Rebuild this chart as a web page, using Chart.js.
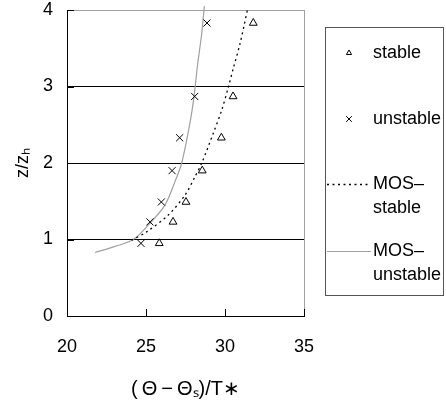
<!DOCTYPE html>
<html><head><meta charset="utf-8">
<style>html,body{margin:0;padding:0;background:#fff;}#wrap{width:446px;height:401px;position:relative;}</style>
<script src="https://cdn.jsdelivr.net/npm/chart.js@4"></script>
</head><body><div id="wrap"><canvas id="c" width="446" height="401"></canvas></div>
<script>
// ---- data ----
const obsHeights   = [0.95, 1.23, 1.49, 1.90, 2.33, 2.87, 3.83];
const stableObs    = [25.84, 26.71, 27.53, 28.56, 29.77, 30.51, 31.79];
const unstableObs  = [24.68, 25.25, 25.97, 26.65, 27.13, 28.08, 28.86];
const mosStableX   = [24.09, 25.04, 26.41, 27.47, 28.10, 28.53, 29.26, 29.79, 30.21, 30.53, 30.95, 31.45];
const mosStableZ   = [0.99, 1.10, 1.32, 1.58, 1.82, 2.00, 2.39, 2.69, 2.99, 3.24, 3.56, 4.03];
const mosUnstableX = [21.77, 23.04, 24.20, 25.15, 26.20, 26.84, 27.26, 27.78, 28.04, 28.25, 28.53, 28.69];
const mosUnstableZ = [0.83, 0.91, 1.00, 1.19, 1.45, 1.76, 2.00, 2.52, 2.87, 3.26, 3.70, 4.05];
const xTicks = [20, 25, 30, 35];
const yTicks = [0, 1, 2, 3, 4];
const seriesNames = ['stable', 'unstable', 'MOS–\nstable', 'MOS–\nunstable'];
const xTitle = '(\u2009Θ\u2009−\u2009Θₛ)/T∗';
const yTitle = 'z/zₕ';

const FONT = "'Liberation Sans', Arial, sans-serif";
const GRAY = '#a0a0a0';

const pts = (xs, ys) => xs.map((x, i) => ({x: x, y: ys[i]}));

const innerTicks = {
  id: 'innerTicks',
  afterDatasetsDraw(chart) {
    const ctx = chart.ctx, xs = chart.scales.x, ys = chart.scales.y;
    ctx.save();
    ctx.strokeStyle = '#000'; ctx.lineWidth = 1;
    ctx.beginPath();
    xTicks.forEach(v => { if (v === xTicks[0]) return;
      const px = Math.round(xs.getPixelForValue(v)) + 0.5;
      ctx.moveTo(px, ys.bottom); ctx.lineTo(px, ys.bottom - 7); });
    yTicks.forEach(v => { if (v === yTicks[0]) return;
      const py = Math.round(ys.getPixelForValue(v)) + 0.5;
      ctx.moveTo(xs.left, py); ctx.lineTo(xs.left + 7, py); });
    ctx.stroke();
    ctx.restore();
  }
};

const boxLegend = {
  id: 'boxLegend',
  afterDraw(chart) {
    const ctx = chart.ctx;
    const L = 325.5, T = 27.5, W = 118, H = 268;
    ctx.save();
    ctx.strokeStyle = '#555'; ctx.lineWidth = 1;
    ctx.strokeRect(L, T, W, H);
    ctx.textBaseline = 'middle';
    ctx.textAlign = 'left';
    const rows = [53, 119, 184, 251];
    chart.data.datasets.forEach((ds, i) => {
      const y = rows[i];
      if (ds.showLine) {
        ctx.save();
        ctx.strokeStyle = ds.borderColor; ctx.lineWidth = ds.borderWidth;
        ctx.setLineDash(ds.borderDash || []);
        ctx.beginPath(); ctx.moveTo(327, y + 0.5); ctx.lineTo(371, y + 0.5); ctx.stroke();
        ctx.restore();
      } else {
        ctx.save();
        ctx.fillStyle = 'rgba(0,0,0,0)';
        ctx.strokeStyle = '#000'; ctx.lineWidth = 1;
        Chart.helpers.drawPoint(ctx, {pointStyle: ds.pointStyle, radius: ds.legendRadius, rotation: 0,
          borderWidth: 1}, 349, y);
        ctx.restore();
      }
      ctx.font = '18px ' + FONT;
      ctx.fillStyle = '#000';
      const lines = ds.label.split('\n');
      lines.forEach((t, k) => ctx.fillText(t, 373, y + k * 24));
    });
    ctx.restore();
  }
};

new Chart(document.getElementById('c'), {
  type: 'scatter',
  data: {
    datasets: [
      {label: seriesNames[0], data: pts(stableObs, obsHeights), pointStyle: 'triangle', radius: 4.5,
       legendRadius: 3, borderColor: '#000', backgroundColor: 'rgba(0,0,0,0)', borderWidth: 1, showLine: false, order: 1},
      {label: seriesNames[1], data: pts(unstableObs, obsHeights), pointStyle: 'crossRot', radius: 5,
       legendRadius: 4, borderColor: '#000', backgroundColor: '#000', borderWidth: 1, showLine: false, order: 1},
      {label: seriesNames[2], data: pts(mosStableX, mosStableZ), showLine: true, pointRadius: 0,
       borderColor: '#000', borderWidth: 1.3, borderDash: [2, 3.5], tension: 0.3, order: 2,
       clip: {left: 0, top: 8, right: 0, bottom: 0}},
      {label: seriesNames[3], data: pts(mosUnstableX, mosUnstableZ), showLine: true, pointRadius: 0,
       borderColor: GRAY, borderWidth: 1.2, tension: 0.3, order: 3,
       clip: {left: 0, top: 8, right: 0, bottom: 0}}
    ]
  },
  options: {
    responsive: false, animation: false, devicePixelRatio: 1,
    layout: {autoPadding: false, padding: {left: 0, right: 142, top: 10, bottom: 0}},
    plugins: {legend: {display: false}, tooltip: {enabled: false}},
    scales: {
      x: {
        type: 'linear', min: 20, max: 35,
        afterBuildTicks: s => { s.ticks = xTicks.map(v => ({value: v})); },
        afterFit: s => { s.height = 85; s.paddingLeft = 0; s.paddingRight = 0; },
        ticks: {font: {family: FONT, size: 18}, color: '#000', padding: 20, maxRotation: 0},
        grid: {drawTicks: false, color: c => (c.tick && c.tick.value === 35) ? GRAY : 'rgba(0,0,0,0)', lineWidth: 1},
        border: {color: '#000', width: 1},
        title: {display: true, text: xTitle, font: {family: FONT, size: 20}, color: '#000', padding: {top: 2, bottom: 0}}
      },
      y: {
        type: 'linear', min: 0, max: 4,
        afterBuildTicks: s => { s.ticks = yTicks.map(v => ({value: v})); },
        afterFit: s => { s.width = 67; s.paddingTop = 0; s.paddingBottom = 0; },
        ticks: {font: {family: FONT, size: 18}, color: '#000', padding: 14},
        grid: {drawTicks: false, color: c => (c.tick && c.tick.value === 4) ? GRAY : '#000', lineWidth: 1},
        border: {color: '#000', width: 1},
        title: {display: true, text: yTitle, font: {family: FONT, size: 18}, color: '#000', padding: {top: 12, bottom: 0}}
      }
    }
  },
  plugins: [innerTicks, boxLegend]
});
</script></body></html>
